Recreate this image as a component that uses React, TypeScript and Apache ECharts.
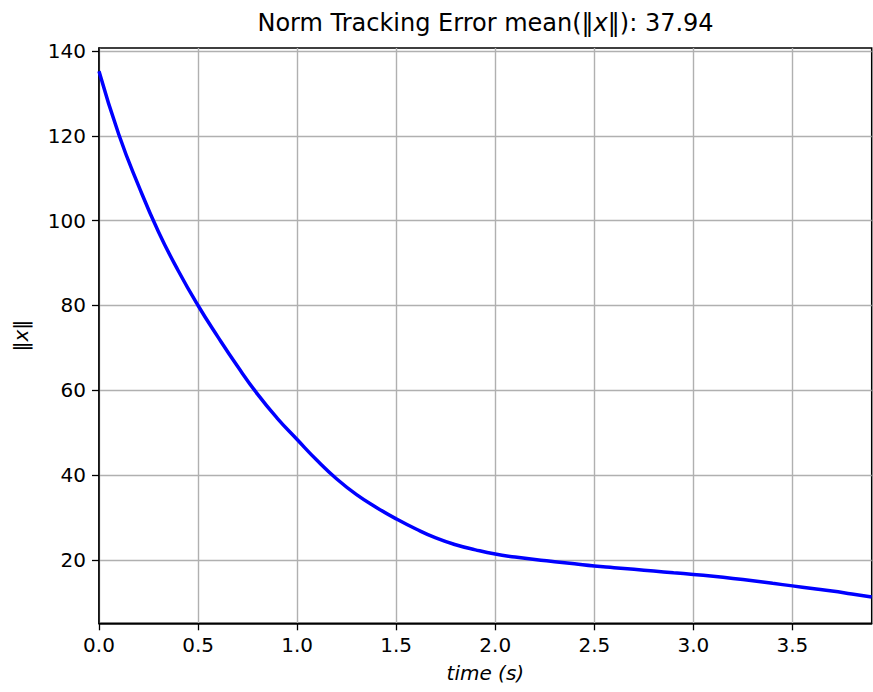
import React, { useEffect, useRef } from "react";
import * as echarts from "echarts";

const timeValues = [0, 0.1, 0.2, 0.3, 0.4, 0.5, 0.6, 0.7, 0.8, 0.9, 1.0, 1.1, 1.2, 1.3, 1.4, 1.5, 1.6, 1.7, 1.8, 1.9, 2.0, 2.1, 2.2, 2.3, 2.4, 2.5, 2.6, 2.7, 2.8, 2.9, 3.0, 3.1, 3.2, 3.3, 3.4, 3.5, 3.6, 3.7, 3.8, 3.9];
const normValues = [135.2, 120.3, 108.2, 97.4, 88.2, 80.0, 72.6, 65.6, 59.1, 53.4, 48.4, 43.5, 39.1, 35.4, 32.4, 29.7, 27.3, 25.2, 23.6, 22.4, 21.4, 20.7, 20.1, 19.6, 19.1, 18.6, 18.2, 17.8, 17.4, 17.0, 16.6, 16.15, 15.65, 15.1, 14.5, 13.9, 13.3, 12.7, 12.0, 11.3];
const xTicks = [0, 0.5, 1.0, 1.5, 2.0, 2.5, 3.0, 3.5];
const yTicks = [20, 40, 60, 80, 100, 120, 140];
const titleText = "Norm Tracking Error mean(‖{i|x}‖): 37.94";
const xName = "time (s)";
const yName = "‖{i|x}‖";

const FONT = "DejaVu Sans";

export default function App() {
  const ref = useRef<HTMLDivElement>(null);
  useEffect(() => {
    if (!ref.current) return;
    const chart = echarts.init(ref.current, undefined, { renderer: "svg" });
    const data = timeValues.map((t, i) => [t, normValues[i]]);
    chart.setOption({
      animation: false,
      backgroundColor: "#ffffff",
      title: {
        text: titleText,
        left: 485.5,
        top: 11,
        padding: 0,
        textAlign: "center",
        textStyle: {
          fontFamily: FONT,
          fontSize: 24,
          fontWeight: "normal",
          color: "#000",
          rich: {
            i: { fontFamily: FONT, fontSize: 24, fontStyle: "italic", color: "#000" },
          },
        },
      },
      grid: {
        left: 99,
        right: 1.3,
        top: 48,
        bottom: 68.7,
        show: true,
        borderColor: "#000",
        borderWidth: 1.5,
        backgroundColor: "#fff",
      },
      xAxis: {
        type: "value",
        min: 0,
        max: 3.9,
        name: xName,
        nameLocation: "middle",
        nameGap: 40,
        nameTextStyle: { fontFamily: FONT, fontSize: 20, fontStyle: "italic", color: "#000" },
        axisLine: { show: true, lineStyle: { color: "#000", width: 1.5 } },
        axisTick: { show: true, inside: false, length: 7, customValues: xTicks, lineStyle: { color: "#000", width: 1.3 } },
        axisLabel: {
          customValues: xTicks,
          margin: 12,
          fontFamily: FONT,
          fontSize: 20,
          color: "#000",
          formatter: (v: number) => v.toFixed(1),
        },
        splitLine: { show: true, lineStyle: { color: "#b0b0b0", width: 1.4 } },
      },
      yAxis: {
        type: "value",
        min: 5.08,
        max: 140.7,
        name: yName,
        nameLocation: "middle",
        nameRotate: 90,
        nameGap: 68,
        nameTextStyle: {
          fontFamily: FONT,
          fontSize: 20,
          color: "#000",
          rich: { i: { fontFamily: FONT, fontSize: 20, fontStyle: "italic", color: "#000" } },
        },
        axisLine: { show: true, lineStyle: { color: "#000", width: 1.5 } },
        axisTick: { show: true, inside: false, length: 7, customValues: yTicks, lineStyle: { color: "#000", width: 1.3 } },
        axisLabel: {
          customValues: yTicks,
          margin: 13,
          fontFamily: FONT,
          fontSize: 20,
          color: "#000",
          formatter: (v: number) => String(Math.round(v)),
        },
        splitLine: { show: true, lineStyle: { color: "#b0b0b0", width: 1.4 } },
      },
      series: [
        {
          type: "line",
          data,
          smooth: true,
          showSymbol: false,
          symbol: "none",
          lineStyle: { color: "#0000ff", width: 3.5 },
          clip: true,
        },
      ],
    });
    return () => chart.dispose();
  }, []);
  return <div ref={ref} style={{ width: 873, height: 692, position: "absolute", left: 0, top: 0 }} />;
}
